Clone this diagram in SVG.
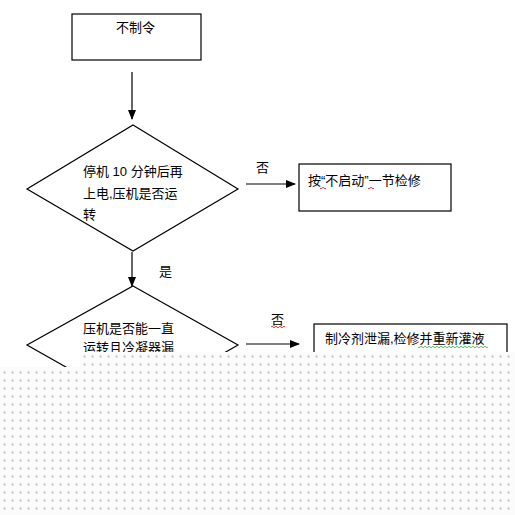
<svg xmlns="http://www.w3.org/2000/svg" width="515" height="515" viewBox="0 0 515 515">
<style>
.shape{fill:#fff;stroke:#000;stroke-width:1.2}
.line{fill:none;stroke:#000;stroke-width:1.2}
text{font-family:"Liberation Sans","Noto Sans CJK SC",sans-serif;font-size:13px;fill:#000}
.sq{fill:none;stroke-width:0.8}
</style>
<defs>
<marker id="ah" markerWidth="10" markerHeight="8" refX="9" refY="4" orient="auto" markerUnits="userSpaceOnUse">
<path d="M0,0 L10,4 L0,8 Z" fill="#000"/>
</marker>
<pattern id="dots" x="0" y="0" width="8" height="8" patternUnits="userSpaceOnUse">
<rect width="8" height="8" fill="#fbfbfb"/>
<rect x="3" y="3" width="3" height="3" fill="#e6e6e6"/>
<rect x="4" y="4" width="1" height="1" fill="#b4b4b4"/>
</pattern>
</defs>
<rect width="515" height="515" fill="#fff"/>
<g id="connectors">
<line class="line" x1="132" y1="72" x2="132" y2="119" marker-end="url(#ah)"/>
<line class="line" x1="246" y1="184" x2="295" y2="184" marker-end="url(#ah)"/>
<line class="line" x1="132" y1="252" x2="132" y2="286" marker-end="url(#ah)"/>
<line class="line" x1="246" y1="344" x2="299" y2="344" marker-end="url(#ah)"/>
<text x="256" y="172">否</text>
<text x="159" y="276">是</text>
<text x="271" y="324">否</text>
<path class="sq" stroke="#d00" d="M271,327 q1,-1.5 2,0 t2,0 t2,0 t2,0 t2,0 t2,0 t2,0"/>
</g>
<g id="n1">
<rect class="shape" x="72" y="14" width="129" height="46"/>
<text x="116" y="32">不制令</text>
</g>
<g id="n2">
<polygon class="shape" points="133,125 238,189 133,251 27,189"/>
<text x="83" y="176">停机 10 分钟后再</text>
<text x="83" y="198">上电,压机是否运</text>
<text x="83" y="219">转</text>
</g>
<g id="n3">
<rect class="shape" x="299" y="164" width="152" height="47"/>
<text x="308" y="185">按“不启动”一节检修</text>
<path class="sq" stroke="#d00" d="M320,188 q1,1.5 2,0 t2,0 t2,0"/>
<path class="sq" stroke="#d00" d="M368,188 q1,1.5 2,0 t2,0 t2,0"/>
</g>
<g id="n4">
<polygon class="shape" points="133,286 238,345 133,405 27,345"/>
<text x="83" y="333">压机是否能一直</text>
<text x="83" y="352">运转且冷凝器漏</text>
</g>
<g id="n5">
<rect class="shape" x="314" y="324" width="193" height="60"/>
<text x="325" y="343">制冷剂泄漏,检修并重新灌液</text>
<path class="sq" stroke="#3a3" d="M418,347 q1,1.5 2,0 t2,0 t2,0 t2,0 t2,0 t2,0 t2,0 t2,0 t2,0 t2,0 t2,0 t2,0 t2,0 t2,0 t2,0 t2,0 t2,0 t2,0 t2,0 t2,0 t2,0 t2,0 t2,0 t2,0 t2,0 t2,0 t2,0 t2,0 t2,0 t2,0 t2,0 t2,0 t2,0 t2,0 t2,0"/>
</g>
<path d="M80,352 H515 V515 H0 V367 H80 Z" fill="url(#dots)"/>
</svg>
